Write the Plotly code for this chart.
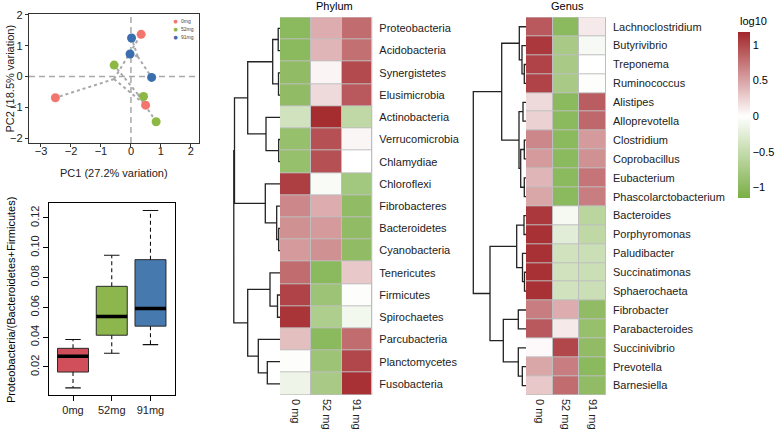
import plotly.graph_objects as go

W, H = 776, 431
FONT = "Liberation Sans, Arial, Helvetica, sans-serif"


def fx(p):
    return p / W


def fy(p):
    return 1 - p / H


# ---------------- PCA data ----------------
pca_groups = ["0mg", "52mg", "91mg"]
pc1_0mg = [-2.52, 0.34, 0.49]
pc2_0mg = [-0.69, 1.37, -0.93]
pc1_52mg = [-0.56, 0.42, 0.84]
pc2_52mg = [0.37, -0.65, -1.47]
pc1_91mg = [0.02, -0.03, 0.69]
pc2_91mg = [1.25, 0.73, -0.03]
pca_colors = ["#F3766E", "#8DB843", "#3A6EAE"]
pca_xticks = [-3, -2, -1, 0, 1, 2]
pca_yticks = [-2, -1, 0, 1, 2]

# ---------------- Box plot data ----------------
box_groups = ["0mg", "52mg", "91mg"]
box_lower = [0.0060, 0.0292, 0.0350]
box_q1 = [0.0166, 0.0413, 0.0474]
box_median = [0.0272, 0.0539, 0.0593]
box_q3 = [0.0325, 0.0741, 0.0920]
box_upper = [0.0384, 0.0950, 0.1250]
box_colors = ["#D04F5A", "#8DB64C", "#4679AE"]
box_yticks = [0.02, 0.04, 0.06, 0.08, 0.10, 0.12]

# ---------------- Heatmap data ----------------
heat_cols = ["0 mg", "52 mg", "91 mg"]
phylum_names = ["Proteobacteria", "Acidobacteria", "Synergistetes", "Elusimicrobia",
                "Actinobacteria", "Verrucomicrobia", "Chlamydiae", "Chloroflexi",
                "Fibrobacteres", "Bacteroidetes", "Cyanobacteria", "Tenericutes",
                "Firmicutes", "Spirochaetes", "Parcubacteria", "Planctomycetes",
                "Fusobacteria"]
phylum_0mg = [-1.00, -1.00, -0.95, -0.95, -0.40, -0.90, -0.90, 1.05, 0.65, 0.60,
              0.55, 0.80, 1.02, 1.10, 0.35, -0.02, -0.15]
phylum_52mg = [0.45, 0.40, 0.06, 0.20, 1.15, 0.95, 0.95, -0.05, 0.45, 0.55,
               0.60, -1.00, -0.85, -0.70, -1.00, -0.85, -0.75]
phylum_91mg = [0.80, 0.78, 0.98, 0.90, -0.55, 0.05, 0.00, -0.80, -0.95, -0.95,
               -0.95, 0.30, -0.02, -0.10, 0.80, 1.00, 1.12]

genus_names = ["Lachnoclostridium", "Butyrivibrio", "Treponema", "Ruminococcus",
               "Alistipes", "Alloprevotella", "Clostridium", "Coprobacillus",
               "Eubacterium", "Phascolarctobacterium", "Bacteroides", "Porphyromonas",
               "Paludibacter", "Succinatimonas", "Sphaerochaeta", "Fibrobacter",
               "Parabacteroides", "Succinivibrio", "Prevotella", "Barnesiella"]
genus_0mg = [0.90, 1.08, 1.02, 1.02, 0.20, 0.25, 0.65, 0.55, 0.40, 0.48,
             1.08, 1.12, 1.12, 1.12, 1.12, 0.70, 0.90, 0.03, 0.48, 0.30]
genus_52mg = [-1.00, -0.75, -0.75, -0.75, -1.00, -1.00, -1.00, -1.00, -1.00, -1.00,
              -0.08, -0.25, -0.40, -0.40, -0.40, 0.45, 0.12, 1.00, 0.70, 0.80]
genus_91mg = [0.12, -0.07, 0.00, -0.02, 0.88, 0.82, 0.55, 0.60, 0.75, 0.70,
              -0.60, -0.55, -0.45, -0.45, -0.45, -0.95, -0.90, -0.95, -1.00, -0.95]

# dendrogram merges: (child a, child b, height); leaves are row indices
phylum_merges = [(0, 1, 1.8), (2, 3, 1.5), (17, 18, 7.3), (5, 6, 1.3), (4, 20, 14.0),
                 (19, 21, 32.3), (9, 10, 1.3), (8, 23, 3.3), (7, 24, 14.7),
                 (22, 25, 45.5), (12, 13, 2.5), (11, 27, 10.0), (15, 16, 12.7),
                 (14, 29, 21.7), (28, 30, 32.3), (26, 31, 46.2)]
genus_merges = [(2, 3, 1.7), (1, 20, 4.0), (0, 21, 6.7), (4, 5, 3.0), (6, 7, 1.7),
                (8, 9, 1.7), (24, 25, 5.3), (23, 26, 7.0), (22, 27, 24.3),
                (10, 11, 2.0), (13, 14, 1.5), (12, 30, 3.5), (29, 31, 9.3),
                (15, 16, 7.7), (18, 19, 3.7), (17, 34, 7.7), (33, 35, 22.7),
                (32, 36, 36.0), (28, 37, 52.7)]

ZMIN, ZMAX = -1.15, 1.18
cb_ticks = [-1, -0.5, 0, 0.5, 1]
cb_text = ["\u22121", "\u22120.5", "0", "0.5", "1"]

GREEN, WHITE, RED = "#7AAE45", "#FFFFFF", "#A3262A"
zf = -ZMIN / (ZMAX - ZMIN)
colorscale = [[0, GREEN], [zf, WHITE], [1, RED]]

fig = go.Figure()

# ---------- PCA ----------
pcs = [(pc1_0mg, pc2_0mg), (pc1_52mg, pc2_52mg), (pc1_91mg, pc2_91mg)]
for (xs, ys) in pcs:
    cx = sum(xs) / len(xs)
    cy = sum(ys) / len(ys)
    lx, ly = [], []
    for a, b in zip(xs, ys):
        lx += [cx, a, None]
        ly += [cy, b, None]
    fig.add_trace(go.Scatter(x=lx, y=ly, mode="lines", xaxis="x", yaxis="y",
                             line=dict(color="#A8A8A8", width=2, dash="dot"),
                             showlegend=False, hoverinfo="skip"))
for (xs, ys), c, g in zip(pcs, pca_colors, pca_groups):
    fig.add_trace(go.Scatter(x=xs, y=ys, mode="markers", xaxis="x", yaxis="y", name=g,
                             marker=dict(color=c, size=9), showlegend=False))

# ---------- Box plot ----------
box_pos = [1, 2, 3]
for i in range(3):
    fig.add_trace(go.Box(x=[box_pos[i]], q1=[box_q1[i]], median=[box_median[i]],
                         q3=[box_q3[i]], lowerfence=[box_q1[i]], upperfence=[box_q3[i]],
                         width=0.8, fillcolor=box_colors[i], xaxis="x2", yaxis="y2",
                         line=dict(color="#2B2B2B", width=1), showlegend=False,
                         hoverinfo="skip", whiskerwidth=0))
    fig.add_trace(go.Scatter(x=[box_pos[i], box_pos[i], None, box_pos[i], box_pos[i]],
                             y=[box_q3[i], box_upper[i], None, box_q1[i], box_lower[i]],
                             mode="lines", xaxis="x2", yaxis="y2",
                             line=dict(color="#111111", width=1.1, dash="4px,3px"),
                             showlegend=False, hoverinfo="skip"))
    fig.add_trace(go.Scatter(x=[box_pos[i] - 0.2, box_pos[i] + 0.2, None,
                                box_pos[i] - 0.2, box_pos[i] + 0.2],
                             y=[box_upper[i], box_upper[i], None, box_lower[i], box_lower[i]],
                             mode="lines", xaxis="x2", yaxis="y2",
                             line=dict(color="#111111", width=1.1),
                             showlegend=False, hoverinfo="skip"))
    fig.add_trace(go.Scatter(x=[box_pos[i] - 0.4, box_pos[i] + 0.4],
                             y=[box_median[i], box_median[i]],
                             mode="lines", xaxis="x2", yaxis="y2",
                             line=dict(color="#000000", width=3.5),
                             showlegend=False, hoverinfo="skip"))


# ---------- Heatmaps + dendrograms ----------
def dendro(merges, n):
    pos = {i: float(i) for i in range(n)}
    hg = {i: 0.0 for i in range(n)}
    xs, ys = [], []
    for k, (a, b, h) in enumerate(merges):
        ya, yb = pos[a], pos[b]
        xs += [hg[a], h, h, hg[b], None]
        ys += [ya, ya, yb, yb, None]
        pos[n + k] = (ya + yb) / 2
        hg[n + k] = h
    return xs, ys


def add_heat(names, c0, c1, c2, xa, ya, da, merges, showscale):
    z = [[a, b, c] for a, b, c in zip(c0, c1, c2)]
    hm = go.Heatmap(z=z, x=[0, 1, 2], y=list(range(len(names))), xaxis=xa, yaxis=ya,
                    colorscale=colorscale, zmin=ZMIN, zmax=ZMAX, xgap=1, ygap=1,
                    showscale=showscale, hoverinfo="skip")
    if showscale:
        hm.colorbar = dict(x=fx(738), xanchor="left", y=fy(32), yanchor="top",
                           len=166 / H, lenmode="fraction", thickness=12,
                           thicknessmode="pixels", outlinewidth=0, ticks="",
                           xpad=0, ypad=0, tickvals=cb_ticks, ticktext=cb_text,
                           tickfont=dict(size=11, color="#000", family=FONT))
    fig.add_trace(hm)
    dx, dy = dendro(merges, len(names))
    fig.add_trace(go.Scatter(x=dx, y=dy, mode="lines", xaxis=da, yaxis=ya,
                             line=dict(color="#222222", width=1.3),
                             showlegend=False, hoverinfo="skip"))


add_heat(phylum_names, phylum_0mg, phylum_52mg, phylum_91mg, "x3", "y3", "x4",
         phylum_merges, False)
add_heat(genus_names, genus_0mg, genus_52mg, genus_91mg, "x5", "y5", "x6",
         genus_merges, True)

tickfont = dict(size=11, color="#222", family=FONT)
HM_TOP, HM_BOT = 17.3, 395.0

heat_x = dict(range=[-0.5, 2.5], tickvals=[0, 1, 2], ticktext=heat_cols, tickangle=90,
              ticks="", ticklen=0, ticklabelstandoff=3, showline=False, showgrid=False,
              zeroline=False, tickfont=tickfont)
heat_y = dict(side="right", ticks="", ticklen=0, ticklabelstandoff=6, showline=False,
              showgrid=False, zeroline=False, tickfont=tickfont)

fig.update_layout(
    width=W, height=H, margin=dict(l=0, r=0, t=0, b=0, autoexpand=False),
    paper_bgcolor="white", plot_bgcolor="white",
    font=dict(family=FONT, size=11, color="#000"),
    showlegend=False,
    xaxis=dict(domain=[fx(29), fx(199)], range=[-3.4, 2.27], anchor="y",
               tickvals=pca_xticks, ticks="outside", ticklen=3, tickcolor="#333",
               ticklabelstandoff=-5,
               showline=True, mirror=True, linecolor="#333", linewidth=1.3,
               showgrid=False, zeroline=False, tickfont=tickfont),
    yaxis=dict(domain=[fy(143), fy(14)], range=[-2.16, 2.03], anchor="x",
               tickvals=pca_yticks, ticks="outside", ticklen=3, tickcolor="#333",
               showline=True, mirror=True, linecolor="#333", linewidth=1.3,
               showgrid=False, zeroline=False, tickfont=tickfont),
    xaxis2=dict(domain=[fx(49), fx(174.5)], range=[0.38, 3.62], anchor="y2",
                tickvals=box_pos, ticktext=box_groups, ticks="outside", ticklen=5,
                tickcolor="#000", showline=True, mirror=True, linecolor="#000",
                linewidth=1, showgrid=False, zeroline=False, tickfont=tickfont),
    yaxis2=dict(domain=[fy(395), fy(203.3)], range=[0.0012, 0.1298], anchor="x2",
                tickvals=box_yticks, ticktext=["%.2f" % v for v in box_yticks],
                tickangle=-90, ticks="outside", ticklen=5, tickcolor="#000",
                showline=True, mirror=True, linecolor="#000", linewidth=1,
                showgrid=False, zeroline=False, tickfont=tickfont),
    xaxis3=dict(domain=[fx(280), fx(372.3)], anchor="y3", **heat_x),
    yaxis3=dict(domain=[fy(HM_BOT), fy(HM_TOP)], range=[len(phylum_names) - 0.5, -0.5],
                anchor="x3", tickvals=list(range(len(phylum_names))),
                ticktext=phylum_names, **heat_y),
    xaxis4=dict(domain=[fx(226), fx(280)], range=[54, 0], anchor="y3", visible=False),
    xaxis5=dict(domain=[fx(526), fx(606)], anchor="y5", **heat_x),
    yaxis5=dict(domain=[fy(HM_BOT), fy(HM_TOP)], range=[len(genus_names) - 0.5, -0.5],
                anchor="x5", tickvals=list(range(len(genus_names))),
                ticktext=genus_names, **heat_y),
    xaxis6=dict(domain=[fx(470), fx(526)], range=[56, 0], anchor="y5", visible=False),
)

for xr, yr, n in [("x3", "y3", len(phylum_names)), ("x5", "y5", len(genus_names))]:
    fig.add_shape(type="rect", xref=xr, yref=yr, x0=-0.52, x1=2.52, y0=-0.53,
                  y1=n - 0.47, fillcolor="#BEBEBE", line=dict(width=0), layer="below")

fig.add_shape(type="line", xref="x", yref="y domain", x0=0, x1=0, y0=0, y1=1,
              line=dict(color="#A8A8A8", width=1.5, dash="6px,4px"), layer="below")
fig.add_shape(type="line", xref="x domain", yref="y", x0=0, x1=1, y0=0, y1=0,
              line=dict(color="#A8A8A8", width=1.5, dash="6px,4px"), layer="below")


def note(text, x, y, size=11, color="#000", angle=0, xanchor="center", pad=1):
    return dict(text=text, x=fx(x), y=fy(y), xref="paper", yref="paper",
                xanchor=xanchor, yanchor="middle", showarrow=False, textangle=angle,
                borderpad=pad, font=dict(size=size, color=color, family=FONT))


ann = [
    note("PC1 (27.2% variation)", 114, 173, color="#222"),
    note("PC2 (18.5% variation)", 10, 78.5, color="#222", angle=-90),
    note("Proteobacteria/(Bacteroidetes+Firmicutes)", 11, 300, angle=-90),
    note("Phylum", 334, 6),
    note("Genus", 567.5, 6),
    note("log10", 738, 21, xanchor="left"),
]
for i, (g, c) in enumerate(zip(pca_groups, pca_colors)):
    yy = 21 + i * 8.2
    ann.append(note("\u25CF", 175, yy, size=8.5, color=c, pad=0))
    ann.append(note(g, 180, yy, size=5, color="#444", xanchor="left", pad=0))
fig.update_layout(annotations=ann)

fig.write_html("out.html",
               config={"displayModeBar": False},
               post_script="document.body.style.margin='0px';"
                           "document.body.style.padding='0px';")
